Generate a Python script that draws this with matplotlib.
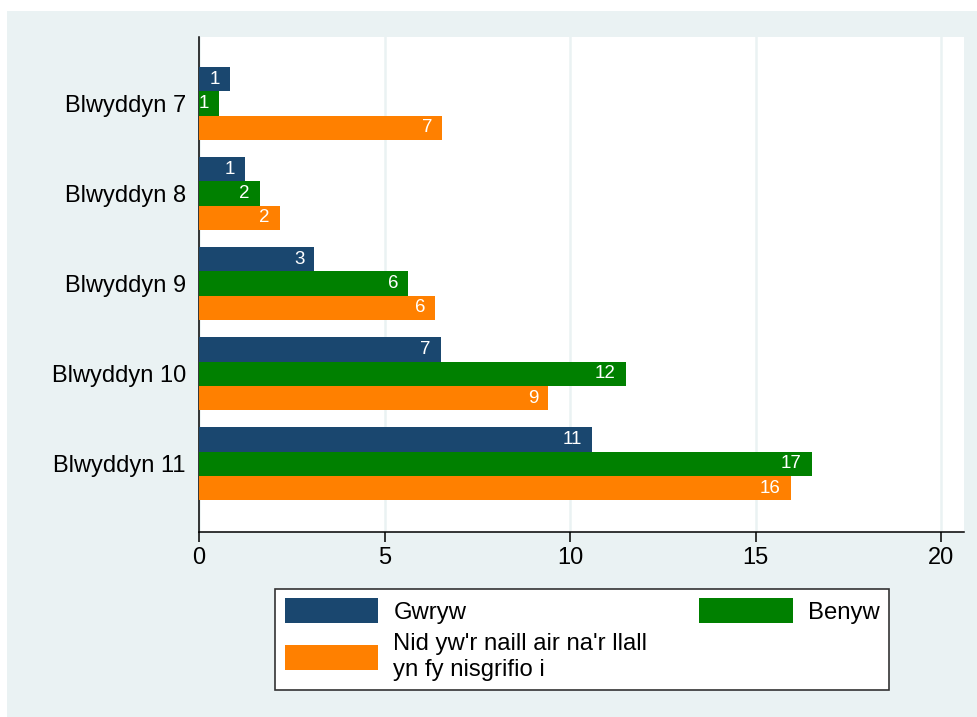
import matplotlib
matplotlib.use("Agg")
import matplotlib.pyplot as plt
import numpy as np
from matplotlib.patches import Rectangle

plt.rcParams['font.family'] = ['Liberation Sans', 'DejaVu Sans']

categories = ["Blwyddyn 7", "Blwyddyn 8", "Blwyddyn 9", "Blwyddyn 10", "Blwyddyn 11"]
gwryw = [0.83, 1.23, 3.11, 6.52, 10.60]
benyw = [0.54, 1.64, 5.64, 11.51, 16.51]
neither = [6.56, 2.17, 6.37, 9.41, 15.95]
series_names = ["Gwryw", "Benyw", "Nid yw'r naill air na'r llall\nyn fy nisgrifio i"]
series_colors = ["#1A476F", "#008000", "#FF8000"]
xticks = [0, 5, 10, 15, 20]

BG = "#EAF2F3"

fig = plt.figure(figsize=(9.78, 7.17), dpi=100)
fig.patch.set_facecolor("white")
fig.patches.append(Rectangle((7 / 978, 0), 1 - 7 / 978, 1 - 11 / 717,
                             transform=fig.transFigure, facecolor=BG,
                             edgecolor="none", zorder=-10))

ax = fig.add_axes([199 / 978, 1 - 531.5 / 717, (964.5 - 199) / 978, (531.5 - 37.3) / 717])
ax.set_facecolor("white")

y = np.arange(len(categories))
h = 0.27
all_series = [gwryw, benyw, neither]
handles = []
for i, (vals, col, name) in enumerate(zip(all_series, series_colors, series_names)):
    pos = y + (i - 1) * h
    bars = ax.barh(pos, vals, height=h, color=col, edgecolor="none", label=name, zorder=3)
    handles.append(bars)
    for p, v in zip(pos, vals):
        ax.annotate(f"{v:.0f}", xy=(v, p), xytext=(-7.3, 0), textcoords="offset points",
                    ha="right", va="center", color="white", fontsize=13.5, zorder=4)

ax.set_ylim(4.751, -0.733)
ax.set_xlim(0, 20.63)
ax.set_yticks(y)
ax.set_yticklabels(categories, fontsize=17)
ax.tick_params(axis="y", length=0, pad=9.5)
ax.set_xticks(xticks)
ax.set_xticklabels([str(t) for t in xticks], fontsize=17)
ax.tick_params(axis="x", length=7, width=1.1, direction="out", pad=4)
ax.grid(axis="x", color=BG, linewidth=1.8, zorder=0)
ax.set_axisbelow(True)
for s in ["top", "right"]:
    ax.spines[s].set_visible(False)
for s in ["left", "bottom"]:
    ax.spines[s].set_color("black")
    ax.spines[s].set_linewidth(1.1)

leg = fig.legend([handles[0], handles[2], handles[1]],
                 [series_names[0], series_names[2], series_names[1]],
                 ncol=2, mode="expand",
                 bbox_to_anchor=(275 / 978, 1 - 692 / 717, (889 - 275) / 978, (692 - 587) / 717),
                 loc="center", fontsize=17.2, frameon=True, fancybox=False,
                 edgecolor="#333333", handlelength=3.93, handleheight=1.23,
                 handletextpad=0.63, borderpad=0.4, labelspacing=0.4,
                 borderaxespad=0)
leg.get_frame().set_linewidth(1.2)
leg.get_frame().set_facecolor("white")
leg.get_frame().set_alpha(1)

fig.savefig("out.png", dpi=100, facecolor=fig.get_facecolor())
